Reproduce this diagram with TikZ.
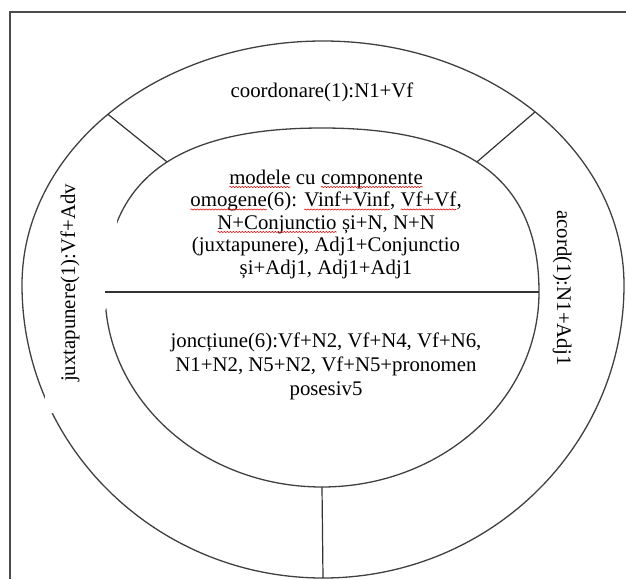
\documentclass[tikz,border=0pt]{standalone}
\usepackage{fontspec}
\setmainfont{Liberation Serif}
\usetikzlibrary{decorations.pathmorphing}
\newcommand{\spellerr}[1]{\tikz[baseline=(w.base)]{\node[inner sep=0pt,outer sep=0pt] (w) {#1};
    \draw[red!90!black,line width=0.55pt,decorate,decoration={snake,amplitude=0.6pt,segment length=3pt}]
        ([yshift=-3pt]w.base west) -- ([yshift=-3pt]w.base east);}}
\begin{document}
\begin{tikzpicture}[x=1pt,y=-1pt,
    ring/.style={draw=black!75,line width=1.3pt},
    cut/.style={draw=black!80,line width=1.2pt},
    lbl/.style={font=\fontsize{20.8}{22.5}\selectfont,align=center,inner sep=0pt}]
    \useasboundingbox (0,0) rectangle (626,579);
    \draw[black!70,line width=1.3pt] (626,12) -- (10,12) -- (10,579);
    % outer ring
    \coordinate (oc) at (323,285);
    \coordinate (oleft) at (22,285);
    \coordinate (otl) at ([shift={(oc)}]224.4:301 and 244);
    \coordinate (otr) at ([shift={(oc)}]314.8:301 and 244);
    \coordinate (obot) at (323,578);
    \draw[ring] (oleft) arc[start angle=180,end angle=360,x radius=301,y radius=244]
        arc[start angle=0,end angle=180,x radius=301,y radius=293];
    % inner ring
    \coordinate (ileft) at (105,292);
    \coordinate (itop) at (322,128);
    \coordinate (iright) at (539,292);
    \coordinate (ibot) at (322,487);
    \draw[ring] (ileft) .. controls (105,180.5) and (174.4,128) .. coordinate[pos=0.54] (itl) (itop)
        .. controls (469.6,128) and (539,180.5) .. coordinate[pos=0.46] (itr) (iright)
        arc[start angle=0,end angle=180,x radius=217,y radius=195];
    \fill[white] (45,200) -- (117,200) -- (117,292) -- (100,318) -- (100,413) -- (45,413) -- cycle;
    \draw[cut] (otl) -- (itl);
    \draw[cut] (otr) -- (itr);
    \draw[cut] (ibot) -- (obot);
    \draw[cut] (ileft) -- (iright);
    \node[lbl] (coord) at (322,92) {coordonare(1):N1+Vf};
    \node[lbl] (omog) at (326,224) {\spellerr{modele} cu \spellerr{componente}\\
        \spellerr{omogene}(6): \spellerr{Vinf+Vinf}, \spellerr{Vf+Vf},\\
        \spellerr{N+Conjunctio} și+N, N+N\\
        (juxtapunere), Adj1+Conjunctio\\
        și+Adj1, Adj1+Adj1};
    \node[lbl] (jonc) at (326,366) {joncțiune(6):Vf+N2, Vf+N4, Vf+N6,\\[1.5pt]
        N1+N2, N5+N2, Vf+N5+pronomen\\[1.5pt]
        posesiv5};
    \node[lbl,rotate=90] (juxt) at (70,283) {juxtapunere(1):Vf+Adv};
    \node[lbl,rotate=-90] (acord) at (562,288) {acord(1):N1+Adj1};
\end{tikzpicture}
\end{document}
